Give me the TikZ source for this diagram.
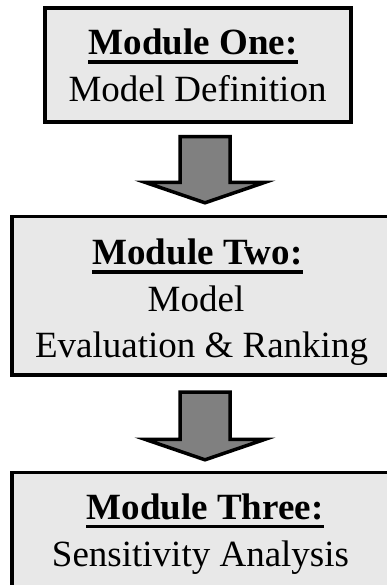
\documentclass[tikz,border=0pt]{standalone}
\usepackage{fontspec}
\setmainfont{Liberation Serif}
\usetikzlibrary{calc}
\definecolor{boxgray}{HTML}{E8E8E8}
\definecolor{arrowgray}{HTML}{808080}
\begin{document}
\begin{tikzpicture}[x=1pt,y=-1pt,
  modbox/.style={draw=black, line width=3.5pt, fill=boxgray, rectangle, inner sep=0pt},
  modfill/.style={fill=boxgray, rectangle, inner sep=0pt},
  boxedge/.style={draw=black, line width=3.5pt, line cap=rect},
  bodytext/.style={anchor=base, inner sep=0pt, font=\fontsize{37}{44}\selectfont},
  headtext/.style={anchor=base, inner sep=0pt, font=\fontsize{37}{44}\selectfont\bfseries},
  uline/.style={line width=3.5pt},
  flowarrow/.style={draw=black, line width=3.5pt, fill=arrowgray, line join=miter}
]
\useasboundingbox (0,0) rectangle (387,585);
\clip (0,0) rectangle (387,585);
\fill[white] (0,0) rectangle (387,585);

% module boxes; the two lower ones run on past the right edge of the page
\node[modbox, minimum width=306pt, minimum height=114pt] (m1) at (198,65) {};
\node[modfill, minimum width=380pt, minimum height=158.5pt] (m2) at (202,295.75) {};
\node[modfill, minimum width=380pt, minimum height=114.5pt] (m3) at (202,529.75) {};
\foreach \m in {m2,m3}
  \draw[boxedge] (\m.north east) -- (\m.north west) -- (\m.south west) -- (\m.south east);

% module texts
\node[headtext] (t1a) at (193,54.5) {Module One:};
\node[bodytext] (t1b) at (197.5,101.5) {Model Definition};
\node[headtext] (t2a) at (197.5,264.5) {Module Two:};
\node[bodytext] (t2b) at (196,311) {Model};
\node[bodytext] (t2c) at (201.5,357) {Evaluation \& Ranking};
\node[headtext] (t3a) at (205,519) {Module Three:};
\node[bodytext] (t3b) at (200.5,566.5) {Sensitivity Analysis};

% underlines of the headings
\foreach \t in {t1a,t2a,t3a}
  \draw[uline] ([yshift=-7.5pt]\t.base west) -- ([yshift=-7.5pt]\t.base east);

% block arrows between the modules
\coordinate (a1top) at ($(m1.south)+(7,13)$);
\coordinate (a1tip) at ($(m2.north)+(3,-13.5)$);
\coordinate (a2top) at ($(m2.south)+(3,17)$);
\coordinate (a2tip) at ($(m3.north)+(3,-12.5)$);
\foreach \s/\e in {a1top/a1tip,a2top/a2tip}
  \draw[flowarrow] ([xshift=-25pt]\s) -- ([xshift=25pt]\s)
    -- ([xshift=25pt,yshift=20.5pt]\e) -- ([xshift=60pt,yshift=20.5pt]\e)
    -- (\e)
    -- ([xshift=-60pt,yshift=20.5pt]\e) -- ([xshift=-25pt,yshift=20.5pt]\e) -- cycle;
\end{tikzpicture}
\end{document}
